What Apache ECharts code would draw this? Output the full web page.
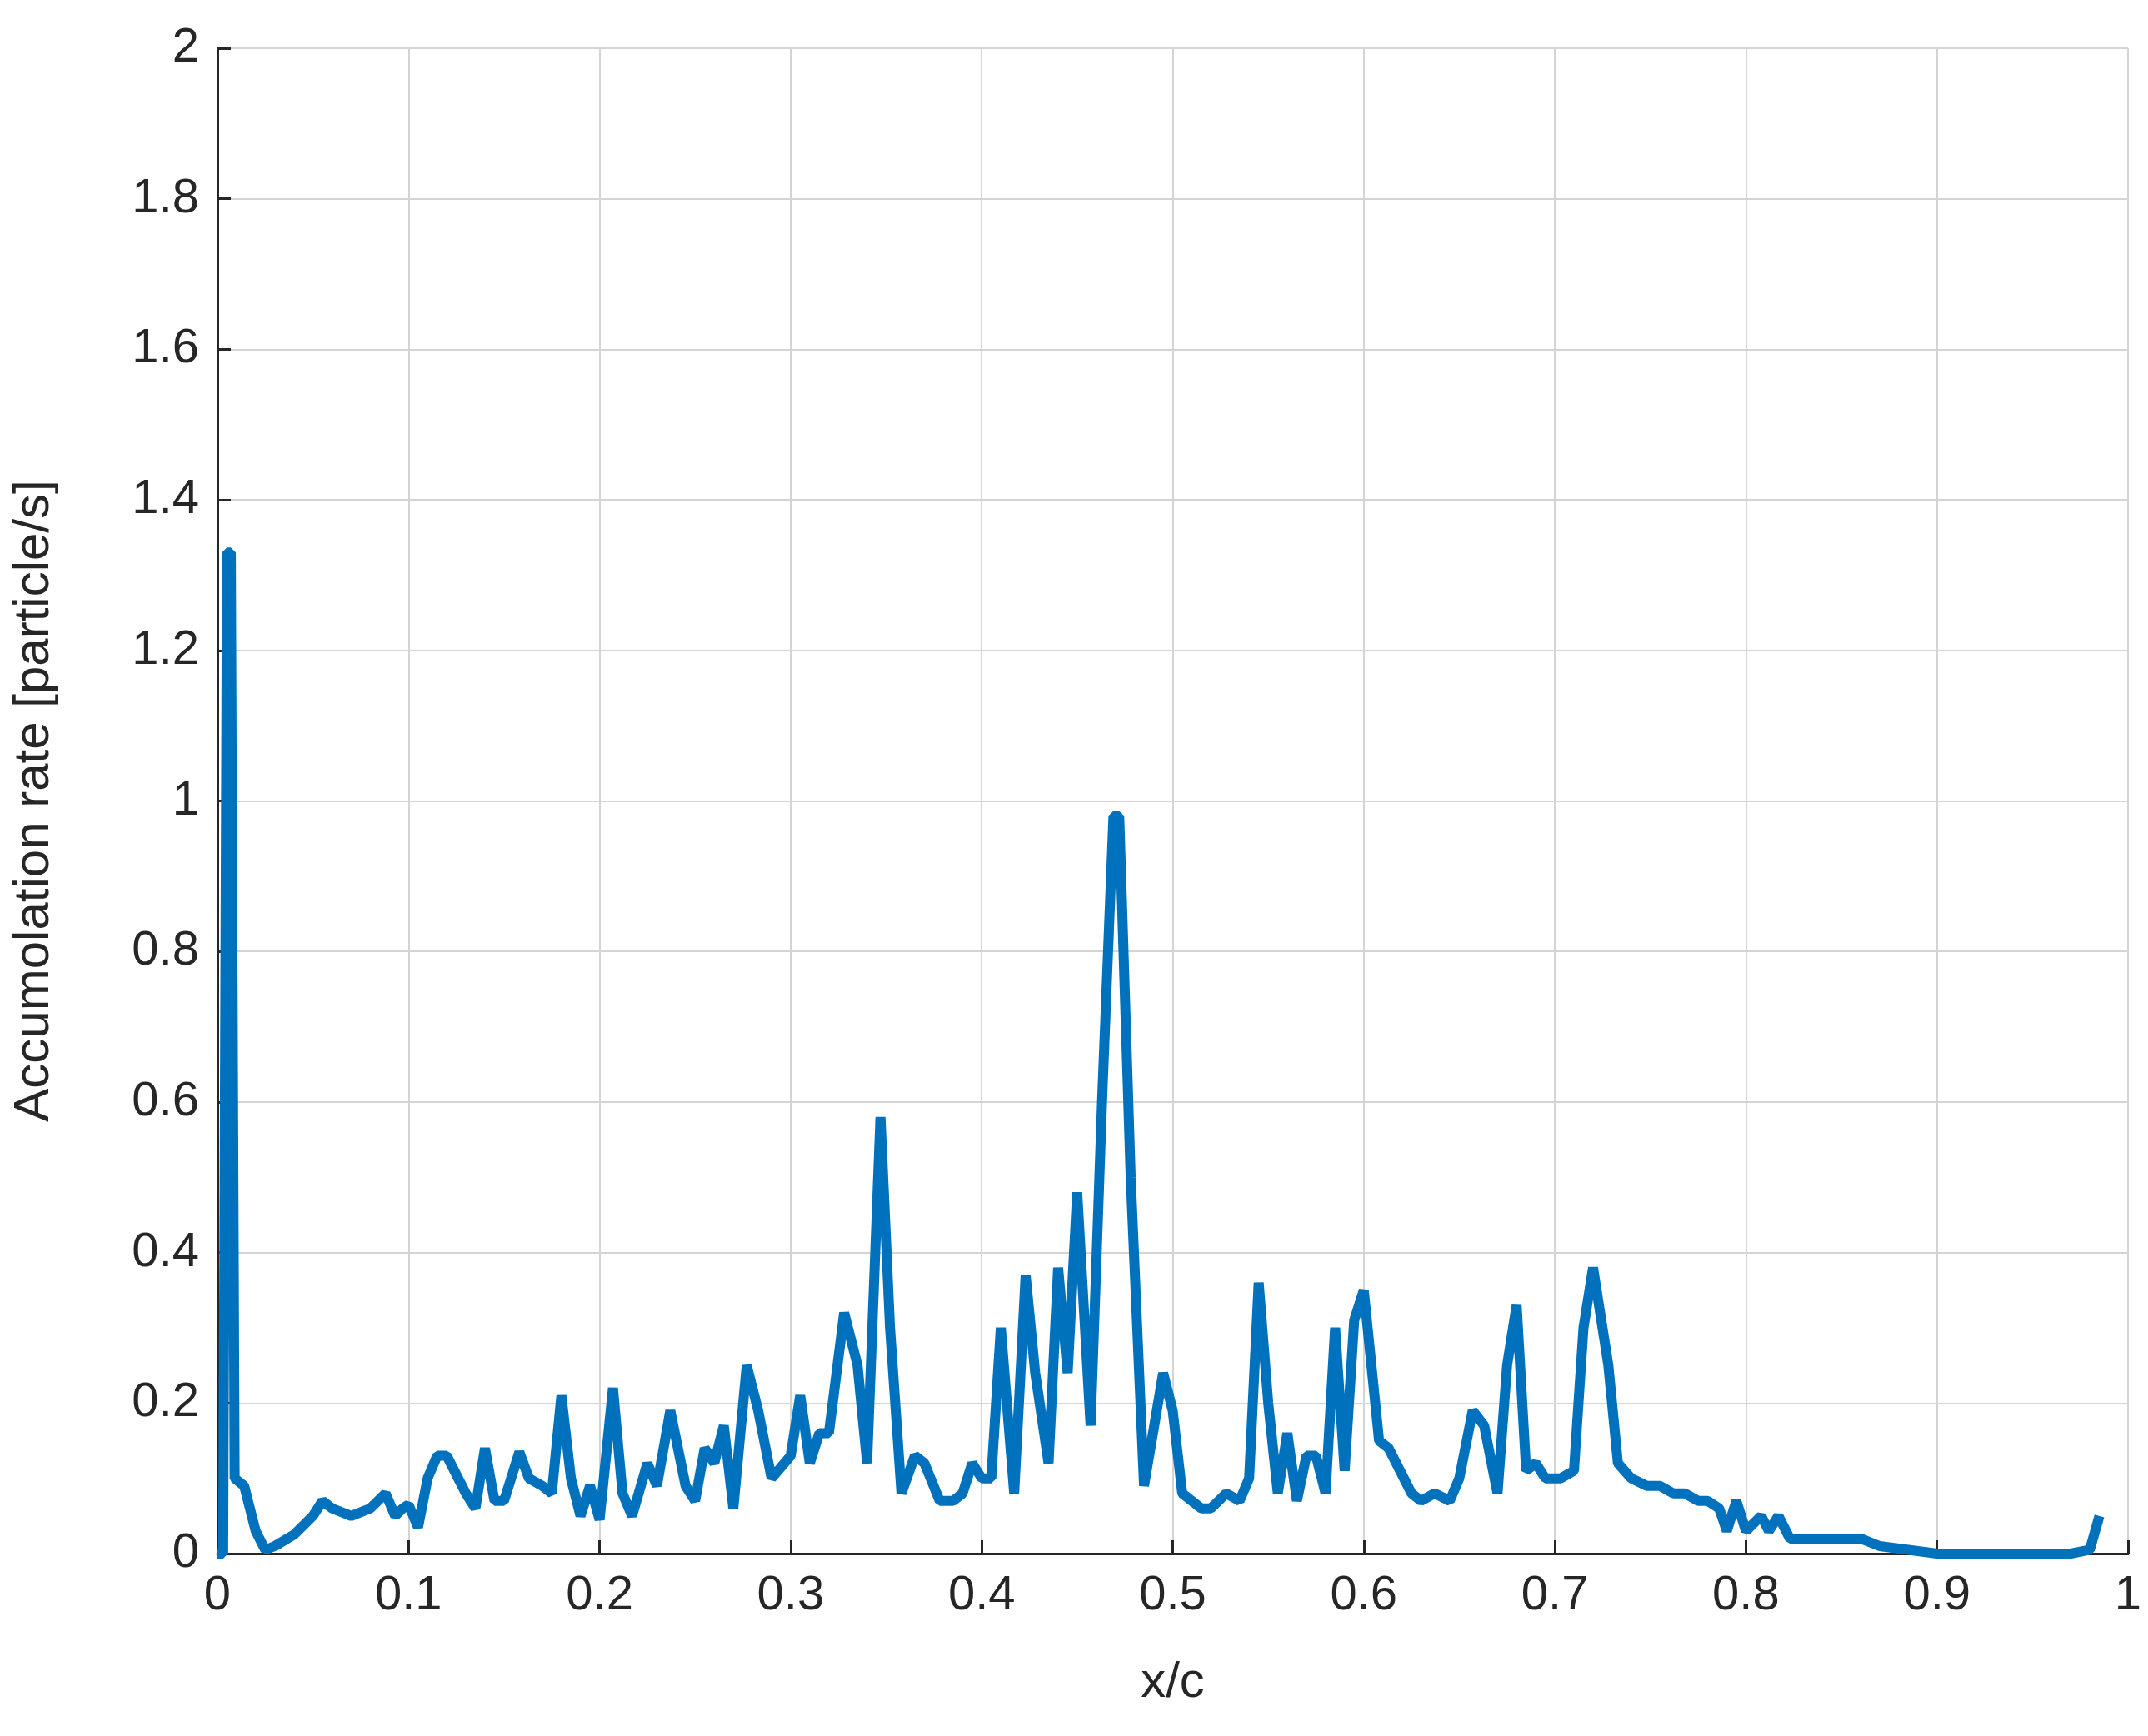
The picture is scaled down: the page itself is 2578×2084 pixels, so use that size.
<!DOCTYPE html>
<html>
<head>
<meta charset="UTF-8">
<script src="https://cdn.jsdelivr.net/npm/echarts@6/dist/echarts.min.js"></script>
<style>html,body{margin:0;background:#fff}#main{width:2578px;height:2084px}</style>
</head>
<body>
<div id="main"></div>
<script>
    var xs = [0, 0.003, 0.005, 0.007, 0.009, 0.014, 0.02, 0.025, 0.03, 0.04, 0.05, 0.055, 0.06, 0.07, 0.08, 0.088, 0.093, 0.097, 0.1, 0.105,
        0.11, 0.115, 0.12, 0.13, 0.135, 0.14, 0.145, 0.15, 0.158, 0.163, 0.17, 0.175, 0.18, 0.185, 0.19, 0.195, 0.2, 0.207, 0.212, 0.217,
        0.225, 0.23, 0.237, 0.245, 0.25, 0.255, 0.26, 0.265, 0.27, 0.277, 0.283, 0.29, 0.3, 0.305, 0.31, 0.315, 0.32, 0.328, 0.335, 0.34,
        0.347, 0.352, 0.358, 0.365, 0.37, 0.378, 0.385, 0.39, 0.395, 0.4, 0.405, 0.41, 0.417, 0.423, 0.428, 0.435, 0.44, 0.445, 0.45, 0.457,
        0.463, 0.469, 0.472, 0.478, 0.485, 0.495, 0.5, 0.505, 0.515, 0.52, 0.528, 0.535, 0.54, 0.545, 0.55, 0.555, 0.56, 0.565, 0.57, 0.575,
        0.58, 0.585, 0.59, 0.595, 0.6, 0.608, 0.613, 0.625, 0.63, 0.637, 0.645, 0.65, 0.657, 0.663, 0.67, 0.675, 0.68, 0.685, 0.69, 0.695,
        0.703, 0.71, 0.715, 0.72, 0.728, 0.733, 0.74, 0.748, 0.755, 0.762, 0.768, 0.775, 0.78, 0.786, 0.79, 0.795, 0.8, 0.808, 0.812, 0.817,
        0.823, 0.86, 0.87, 0.9, 0.97, 0.98, 0.985];
    var ys = [0, 0, 1.33, 1.33, 0.1, 0.09, 0.03, 0.005, 0.01, 0.025, 0.05, 0.07, 0.06, 0.05, 0.06, 0.08, 0.05, 0.06, 0.065, 0.035,
        0.1, 0.13, 0.13, 0.08, 0.06, 0.14, 0.07, 0.07, 0.135, 0.1, 0.09, 0.08, 0.21, 0.1, 0.05, 0.09, 0.045, 0.22, 0.08, 0.05,
        0.12, 0.09, 0.19, 0.09, 0.07, 0.14, 0.12, 0.17, 0.06, 0.25, 0.19, 0.1, 0.13, 0.21, 0.12, 0.16, 0.16, 0.32, 0.25, 0.12,
        0.58, 0.3, 0.08, 0.13, 0.12, 0.07, 0.07, 0.08, 0.12, 0.1, 0.1, 0.3, 0.08, 0.37, 0.24, 0.12, 0.38, 0.24, 0.48, 0.17,
        0.6, 0.98, 0.98, 0.5, 0.09, 0.24, 0.19, 0.08, 0.06, 0.06, 0.08, 0.07, 0.1, 0.36, 0.2, 0.08, 0.16, 0.07, 0.13, 0.13,
        0.08, 0.3, 0.11, 0.31, 0.35, 0.15, 0.14, 0.08, 0.07, 0.08, 0.07, 0.1, 0.19, 0.17, 0.08, 0.25, 0.33, 0.11, 0.12, 0.1,
        0.1, 0.11, 0.3, 0.38, 0.25, 0.12, 0.1, 0.09, 0.09, 0.08, 0.08, 0.07, 0.07, 0.06, 0.03, 0.07, 0.03, 0.05, 0.03, 0.05,
        0.02, 0.02, 0.01, 0, 0, 0.005, 0.05];

    var data = xs.map(function (x, i) { return [x, ys[i]]; });
    var txt = '#262626';
    var axisCommon = {
        axisLine: {lineStyle: {color: txt, width: 3}},
        axisTick: {inside: true, length: 16, lineStyle: {color: txt, width: 3}},
        axisLabel: {color: txt, fontSize: 58, fontFamily: 'Arial', margin: 22,
            formatter: function (v) { return String(+v.toFixed(1)); }},
        splitLine: {show: true, lineStyle: {color: '#d4d4d4', width: 2}},
        nameTextStyle: {color: txt, fontSize: 60, fontFamily: 'Arial'}
    };
    var myChart = echarts.init(document.getElementById('main'));
    myChart.setOption({
        animation: false,
        grid: {left: 261, right: 24, top: 58, bottom: 219},
        xAxis: Object.assign({}, axisCommon, {
            type: 'value', min: 0, max: 1, interval: 0.1,
            name: 'x/c', nameLocation: 'middle', nameGap: 125
        }),
        yAxis: Object.assign({}, axisCommon, {
            type: 'value', min: 0, max: 2, interval: 0.2,
            name: 'Accumolation rate [particle/s]', nameLocation: 'middle', nameGap: 190
        }),
        series: [{
            type: 'line', data: data, showSymbol: false,
            lineStyle: {color: '#0072BD', width: 12}
        }]
    });
</script>
</body>
</html>
